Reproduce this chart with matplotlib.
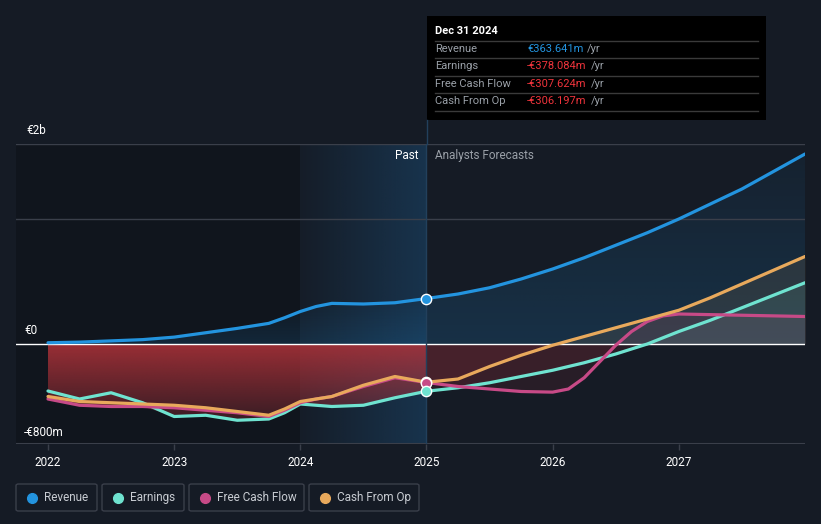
import numpy as np
import matplotlib
matplotlib.use("Agg")
import matplotlib.pyplot as plt
from matplotlib.patches import Rectangle, FancyBboxPatch
from matplotlib.colors import to_rgb

plt.rcParams['font.family'] = ['Roboto', 'DejaVu Sans']

# data in billions of euro
past_t = [2022.0, 2022.25, 2022.5, 2022.75, 2023.0, 2023.25, 2023.5, 2023.75,
          2023.875, 2024.0, 2024.125, 2024.25, 2024.5, 2024.75, 2025.0]
fc_t = [2025.0, 2025.25, 2025.5, 2025.75, 2026.0, 2026.25, 2026.5, 2026.75,
        2027.0, 2027.25, 2027.5, 2027.75, 2028.0]
fcf_fc_t = [2025.0, 2025.25, 2025.5, 2025.75, 2026.0, 2026.125, 2026.25,
            2026.375, 2026.5, 2026.625, 2026.75, 2026.875, 2027.0, 2027.5,
            2028.0]

revenue_past = [0.01, 0.015, 0.025, 0.035, 0.055, 0.09, 0.125, 0.165,
                0.21, 0.26, 0.30, 0.325, 0.32, 0.33, 0.364]
earnings_past = [-0.376, -0.44, -0.39, -0.47, -0.58, -0.57, -0.61, -0.60,
                 -0.55, -0.48, -0.49, -0.50, -0.49, -0.43, -0.378]
fcf_past = [-0.44, -0.49, -0.50, -0.50, -0.51, -0.53, -0.55, -0.58,
            -0.53, -0.47, -0.44, -0.42, -0.34, -0.27, -0.308]
cfo_past = [-0.42, -0.46, -0.47, -0.48, -0.49, -0.51, -0.54, -0.57,
            -0.52, -0.46, -0.44, -0.42, -0.33, -0.26, -0.306]

revenue_fc = [0.364, 0.40, 0.45, 0.52, 0.60, 0.69, 0.79, 0.89,
              1.00, 1.12, 1.24, 1.38, 1.52]
earnings_fc = [-0.378, -0.35, -0.31, -0.26, -0.21, -0.15, -0.08, 0.0,
               0.10, 0.19, 0.29, 0.39, 0.49]
fcf_fc = [-0.308, -0.34, -0.36, -0.38, -0.385, -0.36, -0.27, -0.14,
          -0.01, 0.10, 0.18, 0.225, 0.24, 0.23, 0.22]
cfo_fc = [-0.306, -0.28, -0.18, -0.09, -0.01, 0.06, 0.13, 0.20,
          0.27, 0.37, 0.48, 0.59, 0.70]

names = ["Revenue", "Earnings", "Free Cash Flow", "Cash From Op"]
colors = ["#2394df", "#6fe3d0", "#c74a87", "#e8a95c"]
tooltip_vals = ["€363.641m", "-€378.084m", "-€307.624m", "-€306.197m"]
year_ticks = [2022, 2023, 2024, 2025, 2026, 2027]

bg = "#151b25"
W, H = 821, 524
fig = plt.figure(figsize=(W / 100, H / 100), dpi=100, facecolor=bg)

# axes from px x 16..805, y 144..444
ax = fig.add_axes([16 / W, (H - 444) / H, 789 / W, 300 / H])
ax.set_facecolor(bg)
xlim = (2022 - 32 / 126.2, 2028.0)
ylim = (-0.8, 1.6)

series_past = [revenue_past, earnings_past, fcf_past, cfo_past]
series_fc = [revenue_fc, earnings_fc, fcf_fc, cfo_fc]
series_fc_t = [fc_t, fc_t, fcf_fc_t, fc_t]

# darker past region and highlighted last year band
ax.axvspan(xlim[0], 2024, color="#0b0f14", alpha=0.45, lw=0, zorder=0)
band = np.zeros((2, 200, 4))
band[..., :3] = to_rgb("#1a4468")
band[..., 3] = np.linspace(0.05, 0.6, 200)[None, :]
ax.imshow(band, extent=[2024, 2025, ylim[0], ylim[1]], aspect="auto",
          origin="lower", zorder=0.5)


def grad_fill(x, y, color, a_top, a_bot, z):
    x = np.asarray(x)
    y = np.asarray(y)
    poly = ax.fill_between(x, y, 0, color="none", lw=0)
    lo, hi = min(y.min(), 0), max(y.max(), 0)
    img = np.zeros((100, 2, 4))
    img[..., :3] = to_rgb(color)
    if hi <= 0:
        img[..., 3] = np.linspace(a_bot, a_top, 100)[:, None]
    else:
        img[..., 3] = np.linspace(a_top, a_bot, 100)[:, None]
    im = ax.imshow(img, extent=[x.min(), x.max(), lo, hi], aspect="auto",
                   origin="lower", zorder=z)
    im.set_clip_path(poly.get_paths()[0], transform=ax.transData)


# red gradient area for past negatives
lowest_past = np.minimum(np.minimum(earnings_past, fcf_past), cfo_past)
grad_fill(past_t, lowest_past, "#b3333a", 0.85, 0.25, 1)
grad_fill(past_t, revenue_past, "#2394df", 0.15, 0.02, 1)

# forecast fills
grad_fill(fc_t, revenue_fc, "#2394df", 0.18, 0.06, 1)
for tt, vals, c in zip(series_fc_t[1:], series_fc[1:], colors[1:]):
    v = np.asarray(vals)
    ax.fill_between(tt, v, 0, where=v >= 0, interpolate=True,
                    color=c, alpha=0.1, lw=0, zorder=1)
    ax.fill_between(tt, v, 0, where=v <= 0, interpolate=True,
                    color="#b3333a", alpha=0.12, lw=0, zorder=1)

# gridlines
for g in [1.6, 1.0]:
    ax.axhline(g, color="#3a3f4a", lw=1, zorder=1.5)
ax.axhline(0, color="white", lw=1, zorder=2)
ax.axhline(-0.8, color="#3a3f4a", lw=1.5, zorder=1.5)

for i in range(4):
    ax.plot(past_t + series_fc_t[i][1:], series_past[i] + series_fc[i][1:],
            color=colors[i], lw=2.3, zorder=3, solid_capstyle="round",
            solid_joinstyle="round")

for i in [3, 2, 1, 0]:
    ax.scatter([2025], [series_past[i][-1]], s=55, color=colors[i],
               edgecolor="white", lw=1, zorder=5)

ax.axvline(2025, color="#22405c", lw=1, zorder=2.5)

ax.set_xlim(*xlim)
ax.set_ylim(*ylim)
for s in ax.spines.values():
    s.set_visible(False)
ax.set_yticks([])
ax.set_xticks(year_ticks)
ax.set_xticklabels([str(y) for y in year_ticks])
ax.tick_params(axis="x", colors="#3a3f4a", labelcolor="white", length=4,
               width=1, labelsize=8.5, pad=5)

# y labels
fig.text(26 / W, 1 - 131 / H, "€2b", color="white", fontsize=8.5, va="center")
fig.text(24 / W, 1 - 331 / H, "€0", color="white", fontsize=8.5, va="center")
fig.text(24 / W, 1 - 432 / H, "-€800m", color="white", fontsize=8.5,
         va="center")

fig.text(418 / W, 1 - 156 / H, "Past", color="white", fontsize=8.5,
         ha="right", va="center")
fig.text(435 / W, 1 - 156 / H, "Analysts Forecasts", color="#9aa0a8",
         fontsize=8.5, ha="left", va="center")

# vertical marker line up to tooltip
fig.add_artist(plt.Line2D([427 / W, 427 / W], [1 - 120 / H, 1 - 144 / H],
                          color="#22405c", lw=1))

# tooltip
fig.add_artist(Rectangle((427 / W, 1 - 120 / H), 339 / W, 104 / H,
                         facecolor="black", edgecolor="none"))
fig.text(435 / W, 1 - 31 / H, "Dec 31 2024", color="white", fontsize=8,
         fontweight="bold", va="center")
for yy in [41, 58, 76, 93, 111]:
    fig.add_artist(plt.Line2D([435 / W, 758 / W], [1 - yy / H, 1 - yy / H],
                              color="#3a3a3a", lw=1))
row_y = [49, 66, 84, 101]
for i, (n, v) in enumerate(zip(names, tooltip_vals)):
    fig.text(435 / W, 1 - row_y[i] / H, n, color="#9aa0a8", fontsize=8,
             va="center")
    vc = "#2394df" if i == 0 else "#f0343c"
    t = fig.text(527 / W, 1 - row_y[i] / H, v, color=vc, fontsize=8,
                 va="center")
    fig.canvas.draw()
    bb = t.get_window_extent()
    fig.text((bb.x1 + 4) / W, 1 - row_y[i] / H, "/yr", color="#9aa0a8",
             fontsize=8, va="center")

# legend boxes
boxes = [(16, 97), (102, 184), (189, 304), (309, 419)]
for (x0, x1), n, c in zip(boxes, names, colors):
    fig.add_artist(FancyBboxPatch((x0 / W, 1 - 511 / H), (x1 - x0) / W,
                                  27 / H, boxstyle="round,pad=0,rounding_size=0.003",
                                  facecolor="none", edgecolor="#3a3f4a", lw=1))
    fig.add_artist(plt.Line2D([(x0 + 16) / W], [1 - 497.5 / H], marker="o",
                              markersize=7, color=c, lw=0))
    fig.text((x0 + 28) / W, 1 - 497.5 / H, n, color="#c8ccd2", fontsize=8.5,
             va="center")

fig.savefig("out.png", dpi=100, facecolor=bg)
